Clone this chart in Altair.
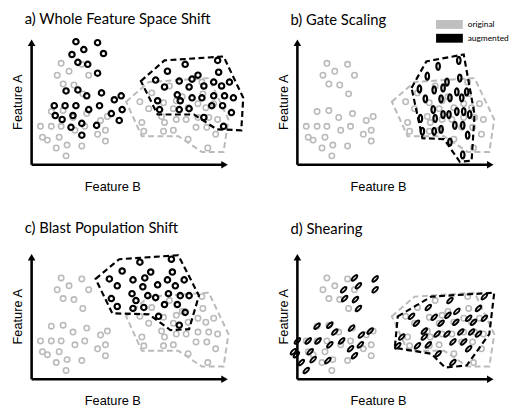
import altair as alt
import pandas as pd

TITLES = ["a) Whole Feature Space Shift", "b) Gate Scaling",
          "c) Blast Population Shift", "d) Shearing"]
LEGEND_LABELS = ["original", "augmented"]
X_TITLE = "Feature B"
Y_TITLE = "Feature A"

# ---- original events (grey) : left population ----
orig_left_b = [30, 51, 26, 38, 58, 32, 43, 52, 20, 32, 42, 56, 70, 77, 9, 20, 30,
               44, 54, 67, 75, 11, 16, 28, 36, 75, 25, 51, 35]
orig_left_a = [103, 102, 91, 95, 91, 82, 81, 72, 54, 55, 48, 52, 45, 49, 39, 39, 39,
               35, 39, 31, 35, 28, 25, 28, 20, 24, 17, 19, 9]
# ---- original events (grey) : right (gated) population ----
orig_right_b = [140, 173, 122, 147, 153, 174, 110, 134, 144, 159, 169, 177, 185, 119, 132,
                147, 157, 169, 180, 189, 112, 135, 167, 178, 187, 114, 134, 144, 159, 179]
orig_right_a = [80, 84, 73, 65, 69, 72, 64, 63, 57, 58, 62, 58, 62, 57, 49,
                46, 46, 48, 48, 46, 43, 43, 38, 38, 31, 34, 34, 35, 26, 17]
# ---- original gate ----
orig_gate_b = [96, 119, 180, 200, 195, 173, 149, 112]
orig_gate_a = [64, 84, 88, 46, 13, 13, 29, 29]

# ---- a) whole feature space shift ----
a_aug_b = [45, 67, 53, 41, 73, 47, 57, 67, 35, 47, 56, 71, 84, 91, 23, 34, 45, 58, 69, 81,
           92, 24, 31, 42, 51, 89, 40, 66, 51,
           156, 189, 138, 163, 169, 190, 126, 150, 160, 175, 185, 193, 201, 135, 148, 163,
           173, 185, 196, 205, 128, 151, 183, 194, 203, 130, 150, 160, 175, 195]
a_aug_a = [125, 124, 117, 112, 113, 104, 102, 93, 75, 76, 70, 73, 66, 70, 60, 60, 60, 56, 60, 52,
           56, 50, 46, 50, 42, 45, 38, 40, 30,
           102, 106, 95, 87, 91, 94, 86, 85, 79, 80, 84, 80, 84, 79, 71, 68,
           68, 70, 70, 68, 65, 65, 60, 60, 53, 56, 56, 57, 48, 39]
a_gate_b = [111, 135, 195, 215, 213, 188, 165, 128]
a_gate_a = [85, 106, 110, 68, 35, 36, 51, 51]

# ---- b) gate scaling ----
b_aug_b = [143, 164, 132, 148, 152, 165, 124, 139, 146, 155, 162, 167, 172, 130, 138,
           148, 154, 162, 169, 175, 125, 140, 160, 168, 173, 127, 139, 146, 155, 168]
b_aug_a = [100, 106, 90, 78, 84, 88, 77, 76, 67, 68, 74, 68, 74, 67, 56,
           51, 51, 54, 54, 51, 47, 47, 40, 40, 30, 34, 34, 36, 23, 10]
b_gate_b = [116, 131, 169, 180, 177, 165, 149, 127]
b_gate_a = [78, 105, 112, 51, 4, 3, 26, 27]

# ---- c) blast population shift ----
c_aug_b = [110, 142, 92, 121, 143, 79, 103, 115, 138, 155, 87, 113, 128, 146, 81,
           102, 118, 126, 139, 151, 160, 87, 103, 114, 135, 148, 129, 156, 150, 106]
c_aug_a = [119, 122, 110, 109, 109, 102, 101, 103, 101, 101, 95, 94, 96, 95, 82,
           87, 85, 83, 87, 85, 85, 74, 72, 73, 76, 76, 64, 68, 55, 80]
c_gate_b = [65, 89, 149, 170, 160, 141, 119, 82]
c_gate_a = [102, 122, 126, 85, 51, 50, 66, 67]

# ---- d) shearing ----
d_aug_b = [58, 79, 47, 62, 79, 48, 59, 62, 20, 33, 38, 55, 65, 74, 0, 11, 21, 33, 45, 54,
           64, -4, -1, 13, 16, 58, 4, 31, 9,
           155, 190, 133, 153, 162, 184, 116, 139, 146, 161, 174, 179, 190, 121, 129,
           142, 152, 166, 177, 184, 106, 129, 158, 169, 174, 102, 122, 133, 143, 158]
d_aug_a = [103, 102, 91, 95, 91, 82, 81, 72, 54, 55, 48, 52, 45, 49, 39, 39, 39, 35, 39, 31,
           35, 28, 25, 28, 20, 24, 17, 19, 9,
           80, 84, 73, 65, 69, 72, 64, 63, 57, 58, 62, 58, 62, 57, 49,
           46, 46, 48, 48, 46, 43, 43, 38, 38, 31, 34, 34, 35, 26, 17]
d_gate_b = [102, 136, 200, 195, 172, 150, 136, 99]
d_gate_a = [64, 84, 88, 46, 14, 12, 26, 32]

# ---- styling ----
GREY = "#bababa"
AXIS_B_MAX = 200
AXIS_A_MAX = 128
TALL = "M0,-1A0.5,1,0,1,1,0,1A0.5,1,0,1,1,0,-1Z"
THIN = "M0,-1A0.4,1,0,1,1,0,1A0.4,1,0,1,1,0,-1Z"
RECT = "M-1.6,-0.53H1.6V0.53H-1.6Z"
AXIS_FONT = "Liberation Sans"

xs = alt.Scale(domain=[0, AXIS_B_MAX], nice=False, zero=False)
ys = alt.Scale(domain=[0, AXIS_A_MAX], nice=False, zero=False)
xaxis = alt.Axis(title=X_TITLE, domain=False, ticks=False, labels=False, grid=False,
                 titlePadding=16, titleFont=AXIS_FONT, titleFontSize=13, titleX=82,
                 titleAlign="center", titleFontWeight="normal", titleColor="black")
yaxis = alt.Axis(title=Y_TITLE, domain=False, ticks=False, labels=False, grid=False,
                 titlePadding=7, titleFont=AXIS_FONT, titleFontSize=13,
                 titleFontWeight="normal", titleColor="black")


def enc():
    return dict(x=alt.X("b:Q", scale=xs, axis=xaxis), y=alt.Y("a:Q", scale=ys, axis=yaxis))


def panel(i, aug_b, aug_a, gate_b, gate_a, shape, size, stroke, angle, legend, title_offset):
    orig = pd.DataFrame({"b": orig_left_b + orig_right_b, "a": orig_left_a + orig_right_a})
    aug = pd.DataFrame({"b": aug_b, "a": aug_a})
    og = pd.DataFrame({"b": orig_gate_b, "a": orig_gate_a, "i": list(range(len(orig_gate_b)))})
    ag = pd.DataFrame({"b": gate_b, "a": gate_a, "i": list(range(len(gate_b)))})
    axes = pd.DataFrame({"b": [0, 0], "a": [0, 0],
                         "b2": [AXIS_B_MAX - 4, 0], "a2": [0, AXIS_A_MAX - 4]})
    heads = pd.DataFrame({"b": [AXIS_B_MAX - 4, 0], "a": [0, AXIS_A_MAX - 4],
                          "shape": ["triangle-right", "triangle-up"]})

    layers = [
        alt.Chart(og).mark_line(interpolate="linear-closed", color=GREY, strokeWidth=2,
                                strokeDash=[6, 3.5]).encode(order=alt.Order("i:Q"), **enc()),
        alt.Chart(orig).mark_point(shape="circle", filled=False, size=30, strokeWidth=1.6,
                                   color=GREY, opacity=1).encode(**enc()),
        alt.Chart(aug).mark_point(shape=shape, filled=False, size=size, strokeWidth=stroke,
                                  color="black", opacity=1, angle=angle).encode(**enc()),
        alt.Chart(ag).mark_line(interpolate="linear-closed", color="black", strokeWidth=2.2,
                                strokeDash=[6, 3.5]).encode(order=alt.Order("i:Q"), **enc()),
        alt.Chart(axes).mark_rule(color="black", strokeWidth=2.6).encode(
            x2=alt.X2("b2:Q"), y2=alt.Y2("a2:Q"), **enc()),
        alt.Chart(heads).mark_point(filled=True, color="black", size=60, opacity=1).encode(
            shape=alt.Shape("shape:N", scale=None), **enc()),
    ]
    if legend:
        leg = pd.DataFrame({"series": LEGEND_LABELS, "b": [0, 0], "a": [0, 0]})
        layers.append(
            alt.Chart(leg).transform_filter("datum.b < 0").mark_point(
                shape=RECT, filled=True, strokeWidth=0).encode(
                color=alt.Color("series:N",
                                scale=alt.Scale(domain=LEGEND_LABELS, range=["#bfbfbf", "black"]),
                                legend=alt.Legend(orient="none", legendX=146, legendY=-23,
                                                  title=None, symbolType=RECT, symbolSize=289,
                                                  symbolOpacity=1, symbolStrokeWidth=0,
                                                  labelFont="Lato", labelFontSize=8.5,
                                                  labelColor="black", labelOffset=10,
                                                  rowPadding=0, padding=0)),
                **enc()))
    return alt.layer(*layers).properties(
        width=AXIS_B_MAX, height=AXIS_A_MAX,
        title=alt.TitleParams(TITLES[i], anchor="start", frame="group", dx=-7,
                              font="Lato", fontSize=15, fontWeight="normal",
                              color="black", offset=title_offset))


pa = panel(0, a_aug_b, a_aug_a, a_gate_b, a_gate_a, "circle", 30, 2.2, 0, False, 8)
pb = panel(1, b_aug_b, b_aug_a, b_gate_b, b_gate_a, TALL, 52, 2.2, 0, True, -12)
pc = panel(2, c_aug_b, c_aug_a, c_gate_b, c_gate_a, "circle", 30, 2.2, 0, False, 15)
pd_ = panel(3, d_aug_b, d_aug_a, d_gate_b, d_gate_a, THIN, 58, 1.9, 45, False, 17)

chart = alt.concat(pa, pb, pc, pd_, columns=2, spacing={"row": 90, "column": 70},
                   bounds="flush").resolve_scale(
    x="independent", y="independent", color="independent").resolve_legend(
    color="independent").properties(
    padding={"left": 4, "top": 0, "right": 0, "bottom": 2}).configure_view(stroke=None)

chart.save("out.html", embed_options={"renderer": "svg", "actions": False})
